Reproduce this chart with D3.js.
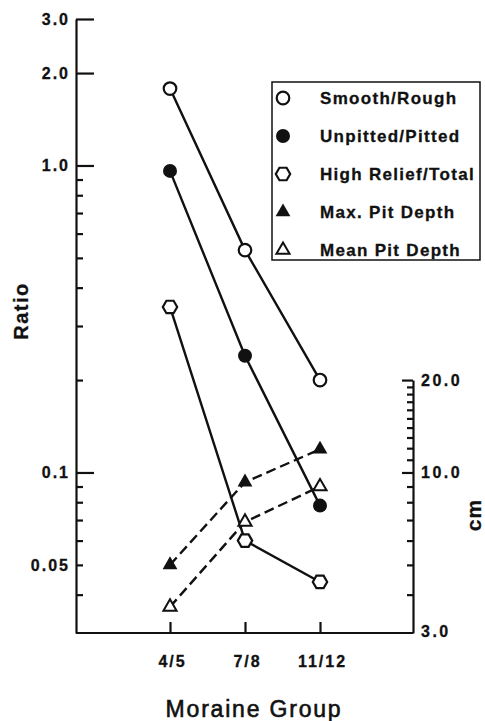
<!DOCTYPE html>
<html>
<head>
<meta charset="utf-8">
<script src="https://cdn.jsdelivr.net/npm/d3@7"></script>
<style>
  body { margin: 0; background: #fff; }
  svg { display: block; font-family: "Liberation Sans", Arial, sans-serif; }
</style>
</head>
<body>
<svg width="485" height="721"></svg>
<script>
// moraine groups along x
const groups = ["4/5", "7/8", "11/12"];
// ratios (left axis)
const smoothRough = [1.78, 0.53, 0.20];
const unpittedPitted = [0.96, 0.24, 0.078];
const highReliefTotal = [0.346, 0.060, 0.044];
// pit depths in cm (right axis)
const maxPitDepth = [5.0, 9.3, 11.9];
const meanPitDepth = [3.65, 6.9, 9.0];

const ratioMajor = [3, 2, 1, 0.1];
const ratioLabels = [3, 2, 1, 0.1, 0.05];
const ratioMinor = [0.9, 0.8, 0.7, 0.6, 0.5, 0.4, 0.3, 0.2, 0.09, 0.08, 0.07, 0.06, 0.05, 0.04];
const cmMajor = [20, 10];
const cmLabels = [20, 10, 3];
const cmMinor = [19, 18, 17, 16, 15, 14, 13, 12, 11, 9, 8, 7, 6, 5, 4];

const legendItems = [
  { name: "Smooth/Rough", mark: "circle" },
  { name: "Unpitted/Pitted", mark: "dot" },
  { name: "High Relief/Total", mark: "hex" },
  { name: "Max. Pit Depth", mark: "tri" },
  { name: "Mean Pit Depth", mark: "otri" }
];

const svg = d3.select("svg");
const INK = "#111";

const LEFT = 76, RIGHT = 413, TOP = 19, BOTTOM = 633;

const x = d3.scalePoint().domain(groups).range([170, 320]);
const y = d3.scaleLog().domain([0.03, 3]).range([BOTTOM, TOP]);
// cm axis uses the same log spacing: 10 cm sits at ratio 0.1
const yCm = d3.scaleLog().domain([3, 20]).range([BOTTOM, y(0.2)]);

function styleAxis(g) {
  g.selectAll("path, line").attr("stroke", INK).attr("stroke-width", 2.2);
  g.selectAll("text").attr("fill", INK).attr("font-weight", "bold")
    .attr("stroke", INK).attr("stroke-width", 0.3);
}

// left axis
svg.append("g")
  .attr("transform", `translate(${LEFT},0)`)
  .call(d3.axisLeft(y).tickValues(ratioMinor).tickSizeInner(-7).tickSizeOuter(0).tickFormat(""))
  .call(styleAxis);
svg.append("g")
  .attr("transform", `translate(${LEFT},0)`)
  .call(d3.axisLeft(y).tickValues(ratioMajor).tickSizeInner(-18).tickSizeOuter(0).tickFormat(""))
  .call(g => g.select(".domain").remove())
  .call(styleAxis);
svg.append("g")
  .attr("transform", `translate(${LEFT},0)`)
  .call(d3.axisLeft(y).tickValues(ratioLabels).tickSize(0).tickPadding(6)
    .tickFormat(d => d === 0.05 ? "0.05" : d3.format(".1f")(d)))
  .call(g => g.select(".domain").remove())
  .call(styleAxis)
  .call(g => g.selectAll("text").attr("font-size", 16).attr("letter-spacing", 2));

// right axis (cm)
svg.append("g")
  .attr("transform", `translate(${RIGHT},0)`)
  .call(d3.axisRight(yCm).tickValues(cmMinor).tickSizeInner(-6).tickSizeOuter(0).tickFormat(""))
  .call(styleAxis);
svg.append("g")
  .attr("transform", `translate(${RIGHT},0)`)
  .call(d3.axisRight(yCm).tickValues(cmMajor).tickSizeInner(-11).tickSizeOuter(0).tickFormat(""))
  .call(g => g.select(".domain").remove())
  .call(styleAxis);
svg.append("g")
  .attr("transform", `translate(${RIGHT},0)`)
  .call(d3.axisRight(yCm).tickValues(cmLabels).tickSize(0).tickPadding(8).tickFormat(d3.format(".1f")))
  .call(g => g.select(".domain").remove())
  .call(styleAxis)
  .call(g => g.selectAll("text").attr("font-size", 16).attr("letter-spacing", 2.5))
  .call(g => g.selectAll(".tick").filter(d => d === 3).select("text").attr("dy", "0.2em"));

// bottom axis
svg.append("line")
  .attr("x1", LEFT).attr("x2", RIGHT).attr("y1", BOTTOM).attr("y2", BOTTOM)
  .attr("stroke", INK).attr("stroke-width", 2.2);
svg.append("g")
  .attr("transform", `translate(0,${BOTTOM})`)
  .call(d3.axisBottom(x).tickSizeInner(-11).tickSizeOuter(0).tickPadding(23))
  .call(g => g.select(".domain").remove())
  .call(styleAxis)
  .call(g => g.selectAll("text").attr("font-size", 16).attr("letter-spacing", 2).attr("dx", 2));

// axis titles
svg.append("text")
  .attr("transform", "translate(28,311) rotate(-90)")
  .attr("text-anchor", "middle")
  .attr("font-size", 20).attr("font-weight", "bold").attr("letter-spacing", 1.5)
  .attr("fill", INK).attr("stroke", INK).attr("stroke-width", 0.3).text("Ratio");
svg.append("text")
  .attr("transform", "translate(481,515) rotate(-90)")
  .attr("text-anchor", "middle")
  .attr("font-size", 21).attr("font-weight", "bold").attr("letter-spacing", 1)
  .attr("fill", INK).attr("stroke", INK).attr("stroke-width", 0.3).text("cm");
svg.append("text")
  .attr("x", 254).attr("y", 717)
  .attr("text-anchor", "middle")
  .attr("font-size", 23).attr("letter-spacing", 1.8)
  .attr("fill", INK).attr("stroke", INK).attr("stroke-width", 0.6).text("Moraine Group");

// series
const hexPath = r => {
  const pts = d3.range(6).map(i => [r * Math.cos(i * Math.PI / 3), r * Math.sin(i * Math.PI / 3)]);
  return "M" + pts.join("L") + "Z";
};
const markers = {
  circle: g => g.append("circle").attr("r", 6.3).attr("fill", "#fff").attr("stroke", INK).attr("stroke-width", 2.2),
  dot: g => g.append("circle").attr("r", 7).attr("fill", INK),
  hex: g => g.append("path").attr("d", hexPath(7.2)).attr("fill", "#fff").attr("stroke", INK).attr("stroke-width", 2.2),
  tri: g => g.append("path").attr("d", d3.symbol(d3.symbolTriangle, 95)()).attr("fill", INK),
  otri: g => g.append("path").attr("d", d3.symbol(d3.symbolTriangle, 75)()).attr("fill", "#fff").attr("stroke", INK).attr("stroke-width", 2)
};

const series = [
  { values: smoothRough, scale: y, mark: "circle", dash: null },
  { values: unpittedPitted, scale: y, mark: "dot", dash: null },
  { values: highReliefTotal, scale: y, mark: "hex", dash: null },
  { values: maxPitDepth, scale: yCm, mark: "tri", dash: "10,5" },
  { values: meanPitDepth, scale: yCm, mark: "otri", dash: "10,5" }
];

series.forEach(s => {
  const line = d3.line()
    .x((d, i) => x(groups[i]))
    .y(d => s.scale(d));
  svg.append("path")
    .attr("d", line(s.values))
    .attr("fill", "none")
    .attr("stroke", INK)
    .attr("stroke-width", 2.4)
    .attr("stroke-dasharray", s.dash);
});
series.forEach(s => {
  s.values.forEach((v, i) => {
    const g = svg.append("g").attr("transform", `translate(${x(groups[i])},${s.scale(v)})`);
    markers[s.mark](g);
  });
});

// legend
const legend = svg.append("g");
legend.append("rect")
  .attr("x", 272).attr("y", 82).attr("width", 208).attr("height", 178)
  .attr("fill", "#fff").attr("stroke", INK).attr("stroke-width", 1.5);
legendItems.forEach((item, i) => {
  const yy = 98 + i * 38;
  const g = legend.append("g").attr("transform", `translate(283,${yy})`);
  markers[item.mark](g);
  legend.append("text")
    .attr("x", 320).attr("y", yy).attr("dy", "0.36em")
    .attr("font-size", 17).attr("font-weight", "bold").attr("letter-spacing", 1.3)
    .attr("fill", INK).attr("stroke", INK).attr("stroke-width", 0.3).text(item.name);
});
</script>
</body>
</html>
